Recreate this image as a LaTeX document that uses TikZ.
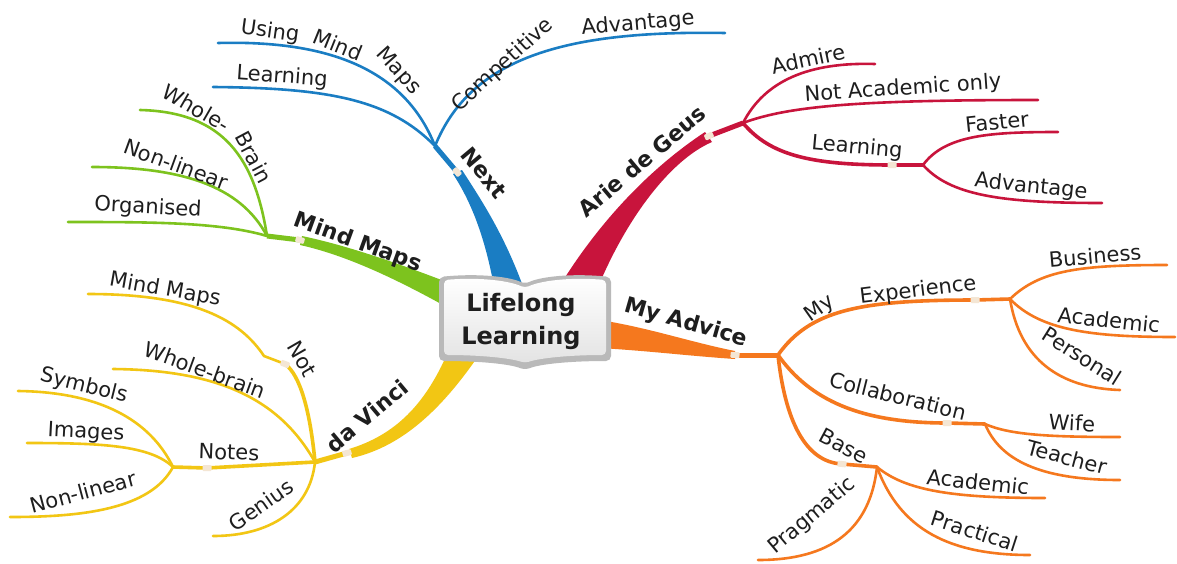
\documentclass[tikz,border=0pt]{standalone}
\usepackage{fontspec}
\setmainfont{DejaVu Sans}
\definecolor{cBlue}{HTML}{1A7DC3}
\definecolor{cRed}{HTML}{C8143C}
\definecolor{cOrange}{HTML}{F5781E}
\definecolor{cGreen}{HTML}{7DC31E}
\definecolor{cYellow}{HTML}{F2C614}
\definecolor{cText}{HTML}{1E1E1E}
\definecolor{cMark}{HTML}{F4E6D4}
\tikzset{
  lbl/.style={font=\fontsize{21}{25}\selectfont, text=cText, inner sep=0pt},
  mainlbl/.style={font=\fontsize{22}{26}\selectfont\bfseries, text=cText, inner sep=0pt},
  centerlbl/.style={font=\fontsize{24}{33}\selectfont\bfseries, text=cText, align=center, inner sep=0pt},
  twig/.style={line width=2.6pt, line cap=round},
  limb/.style={line width=3.6pt, line cap=round},
  stem/.style={line width=5pt},
  markbox/.style={rectangle, minimum width=9pt, minimum height=6pt, inner sep=0pt, fill=cMark, rounded corners=1pt}
}
\begin{document}
\begin{tikzpicture}[x=1pt,y=-1pt]
\fill[white] (0,0) rectangle (1177,563);
\useasboundingbox (0,0) rectangle (1177,563);

% ---------- coordinates ----------
\coordinate (nextM) at (457,172);
\coordinate (nextJ) at (435,146);
\coordinate (bLearnE) at (213,87);
\coordinate (bUsingE) at (218,43);
\coordinate (bCompE) at (725,33);

\coordinate (arieM) at (709,136);
\coordinate (arieJ) at (743,123);
\coordinate (rAdmE) at (875,64);
\coordinate (rNotE) at (1038,100);
\coordinate (rLearnM) at (892,165);
\coordinate (rLearnJ) at (923,165);
\coordinate (rFastE) at (1058,132);
\coordinate (rAdvE) at (1102,203);

\coordinate (advM) at (735,355);
\coordinate (advJ) at (778,355);
\coordinate (expM) at (975,300);
\coordinate (expJ) at (1010,299);
\coordinate (oBusE) at (1167,265);
\coordinate (oAcadE) at (1175,337);
\coordinate (oPersE) at (1120,390);
\coordinate (colM) at (947,423);
\coordinate (colJ) at (985,424);
\coordinate (oWifeE) at (1120,437);
\coordinate (oTeachE) at (1120,480);
\coordinate (baseM) at (842,464);
\coordinate (baseJ) at (877,467);
\coordinate (oAcadTwoE) at (1045,498);
\coordinate (oPractE) at (1030,555);
\coordinate (oPragE) at (758,560);

\coordinate (mmM) at (300,240);
\coordinate (mmJ) at (267,236);
\coordinate (gOrgE) at (68,222);
\coordinate (gNonE) at (92,167);
\coordinate (gWholeE) at (140,110);

\coordinate (dvM) at (347,453);
\coordinate (dvJ) at (315,462);
\coordinate (notM) at (285,364);
\coordinate (notK) at (264,356);
\coordinate (yMindE) at (88,294);
\coordinate (yWholeE) at (113,369);
\coordinate (notesM) at (207,468);
\coordinate (notesJ) at (173,467);
\coordinate (ySymE) at (18,391);
\coordinate (yImgE) at (27,443);
\coordinate (yNonE) at (10,517);
\coordinate (yGenE) at (213,536);

% ---------- thick main branches ----------
\fill[cBlue] (495,292) .. controls (485,235) and (470,200) .. (453,174) -- (462,170) .. controls (480,198) and (505,235) .. (525,292) -- cycle;
\fill[cRed] (556,292) .. controls (590,235) and (640,175) .. (705,132) -- (712,142) .. controls (670,160) and (625,220) .. (596,292) -- cycle;
\fill[cOrange] (600,320) .. controls (650,328) and (690,342) .. (735,351) -- (735,359) .. controls (690,356) and (650,351) .. (600,348) -- cycle;
\fill[cGreen] (452,284) .. controls (395,262) and (345,245) .. (302,236) -- (300,245) .. controls (345,255) and (395,278) .. (452,310) -- cycle;
\fill[cYellow] (448,352) .. controls (425,405) and (395,435) .. (349,449) -- (352,458) .. controls (405,446) and (445,405) .. (481,352) -- cycle;

% ---------- blue ----------
\draw[cBlue, stem] (nextM) -- (nextJ);
\draw[cBlue, twig] (nextJ) .. controls (390,100) and (330,88) .. (bLearnE);
\draw[cBlue, twig] (nextJ) .. controls (405,70) and (330,40) .. (bUsingE);
\draw[cBlue, twig] (nextJ) .. controls (470,60) and (560,30) .. (bCompE);

% ---------- red ----------
\draw[cRed, stem] (arieM) -- (arieJ);
\draw[cRed, twig] (arieJ) .. controls (765,80) and (810,62) .. (rAdmE);
\draw[cRed, twig] (arieJ) .. controls (790,105) and (870,100) .. (rNotE);
\draw[cRed, limb] (arieJ) .. controls (770,155) and (810,165) .. (rLearnM) -- (rLearnJ);
\draw[cRed, twig] (rLearnJ) .. controls (945,135) and (990,132) .. (rFastE);
\draw[cRed, twig] (rLearnJ) .. controls (950,195) and (1000,203) .. (rAdvE);

% ---------- orange ----------
\draw[cOrange, stem] (advM) -- (advJ);
\draw[cOrange, limb] (advJ) .. controls (810,310) and (860,300) .. (expM) -- (expJ);
\draw[cOrange, twig] (expJ) .. controls (1040,270) and (1080,265) .. (oBusE);
\draw[cOrange, twig] (expJ) .. controls (1040,330) and (1090,337) .. (oAcadE);
\draw[cOrange, twig] (expJ) .. controls (1020,360) and (1060,388) .. (oPersE);
\draw[cOrange, limb] (advJ) .. controls (810,400) and (860,423) .. (colM) -- (colJ);
\draw[cOrange, twig] (colJ) .. controls (1010,435) and (1050,437) .. (oWifeE);
\draw[cOrange, twig] (colJ) .. controls (1000,460) and (1040,480) .. (oTeachE);
\draw[cOrange, limb] (advJ) .. controls (785,420) and (805,462) .. (baseM) -- (baseJ);
\draw[cOrange, twig] (baseJ) .. controls (905,490) and (950,498) .. (oAcadTwoE);
\draw[cOrange, twig] (baseJ) .. controls (900,530) and (950,555) .. (oPractE);
\draw[cOrange, twig] (baseJ) .. controls (870,530) and (830,560) .. (oPragE);

% ---------- green ----------
\draw[cGreen, stem] (mmM) -- (mmJ);
\draw[cGreen, twig] (mmJ) .. controls (220,222) and (150,222) .. (gOrgE);
\draw[cGreen, twig] (mmJ) .. controls (240,185) and (180,167) .. (gNonE);
\draw[cGreen, twig] (mmJ) .. controls (255,160) and (225,112) .. (gWholeE);

% ---------- yellow ----------
\draw[cYellow, stem] (dvM) -- (dvJ);
\draw[cYellow, limb] (dvJ) .. controls (310,410) and (300,375) .. (notM);
\draw[cYellow, twig] (notM) -- (notK) .. controls (240,320) and (195,294) .. (yMindE);
\draw[cYellow, twig] (dvJ) .. controls (280,400) and (220,370) .. (yWholeE);
\draw[cYellow, limb] (dvJ) -- (notesM) -- (notesJ);
\draw[cYellow, twig] (notesJ) .. controls (150,420) and (100,392) .. (ySymE);
\draw[cYellow, twig] (notesJ) .. controls (150,445) and (100,443) .. (yImgE);
\draw[cYellow, twig] (notesJ) .. controls (150,510) and (80,517) .. (yNonE);
\draw[cYellow, twig] (dvJ) .. controls (310,510) and (270,536) .. (yGenE);

% ---------- markers ----------
\node[markbox, rotate=-50] (kNext) at (nextM) {};
\node[markbox, rotate=25] (kArie) at (arieM) {};
\node[markbox, rotate=-3] (kAdv) at (advM) {};
\node[markbox] (kExp) at (expM) {};
\node[markbox] (kCol) at (colM) {};
\node[markbox, rotate=-6] (kBase) at (baseM) {};
\node[markbox] (kLearnR) at (rLearnM) {};
\node[markbox, rotate=-15] (kMM) at (mmM) {};
\node[markbox, rotate=15] (kDV) at (dvM) {};
\node[markbox, rotate=-20] (kNot) at (notM) {};
\node[markbox] (kNotes) at (notesM) {};

% ---------- central book ----------
\path[fill=gray!55, rounded corners=5pt] (439,277) .. controls (480,273) and (510,277) .. (525,284) .. controls (540,277) and (570,273) .. (611,277) -- (611,361) .. controls (570,361) and (540,364) .. (525,370) .. controls (510,364) and (480,361) .. (439,361) -- cycle;
\path[top color=white, bottom color=gray!22, rounded corners=4pt] (444,280) .. controls (482,277) and (510,281) .. (525,288) .. controls (540,281) and (568,277) .. (606,280) -- (606,355) .. controls (570,355) and (540,358) .. (525,363) .. controls (510,358) and (480,355) .. (444,355) -- cycle;
\node[centerlbl] (center) at (521,321) {Lifelong\\Learning};

% ---------- labels ----------
\node[lbl, rotate=-4] (tLearnB) at (282,77) {Learning};
\node[lbl, rotate=-8] (tUsing) at (270,32) {Using};
\node[lbl, rotate=-22] (tMindB) at (338,45) {Mind};
\node[lbl, rotate=-48] (tMapsB) at (398,71) {Maps};
\node[lbl, rotate=42] (tComp) at (503,65) {Competitive};
\node[lbl, rotate=5] (tAdvB) at (638,24) {Advantage};
\node[mainlbl, rotate=-50] (tNext) at (484,173) {Next};

\node[mainlbl, rotate=40] (tArie) at (642,161) {Arie de Geus};
\node[lbl, rotate=12] (tAdm) at (808,59) {Admire};
\node[lbl, rotate=4] (tNotAc) at (903,89) {Not Academic only};
\node[lbl, rotate=-5] (tLearnR) at (857,148) {Learning};
\node[lbl, rotate=6] (tFast) at (997,122) {Faster};
\node[lbl, rotate=-6] (tAdvR) at (1031,187) {Advantage};

\node[mainlbl, rotate=-16] (tAdvice) at (686,323) {My Advice};
\node[lbl, rotate=35] (tMy) at (820,309) {My};
\node[lbl, rotate=7] (tExp) at (918,291) {Experience};
\node[lbl, rotate=5] (tBus) at (1095,256) {Business};
\node[lbl, rotate=-6] (tAcad) at (1109,320) {Academic};
\node[lbl, rotate=-32] (tPers) at (1082,356) {Personal};
\node[lbl, rotate=-14] (tColl) at (898,396) {Collaboration};
\node[lbl, rotate=-3] (tWife) at (1072,423) {Wife};
\node[lbl, rotate=-15] (tTeach) at (1067,457) {Teacher};
\node[lbl, rotate=-28] (tBase) at (844,446) {Base};
\node[lbl, rotate=-6] (tAcadTwo) at (978,482) {Academic};
\node[lbl, rotate=-18] (tPract) at (975,531) {Practical};
\node[lbl, rotate=40] (tPrag) at (812,516) {Pragmatic};

\node[mainlbl, rotate=-20] (tMM) at (358,243) {Mind Maps};
\node[lbl, rotate=-3] (tOrg) at (148,208) {Organised};
\node[lbl, rotate=-20] (tNonG) at (176,164) {Non-linear};
\node[lbl, rotate=-30] (tWholeG) at (196,108) {Whole-};
\node[lbl, rotate=-62] (tBrainG) at (254,157) {Brain};

\node[mainlbl, rotate=40] (tDV) at (367,416) {da Vinci};
\node[lbl, rotate=-60] (tNot) at (302,359) {Not};
\node[lbl, rotate=-10] (tMindY) at (165,290) {Mind Maps};
\node[lbl, rotate=-20] (tWholeY) at (205,370) {Whole-brain};
\node[lbl, rotate=-2] (tNotes) at (229,452) {Notes};
\node[lbl, rotate=-14] (tSym) at (84,386) {Symbols};
\node[lbl, rotate=-3] (tImg) at (86,433) {Images};
\node[lbl, rotate=15] (tNonY) at (83,492) {Non-linear};
\node[lbl, rotate=35] (tGen) at (261,505) {Genius};
\end{tikzpicture}
\end{document}
